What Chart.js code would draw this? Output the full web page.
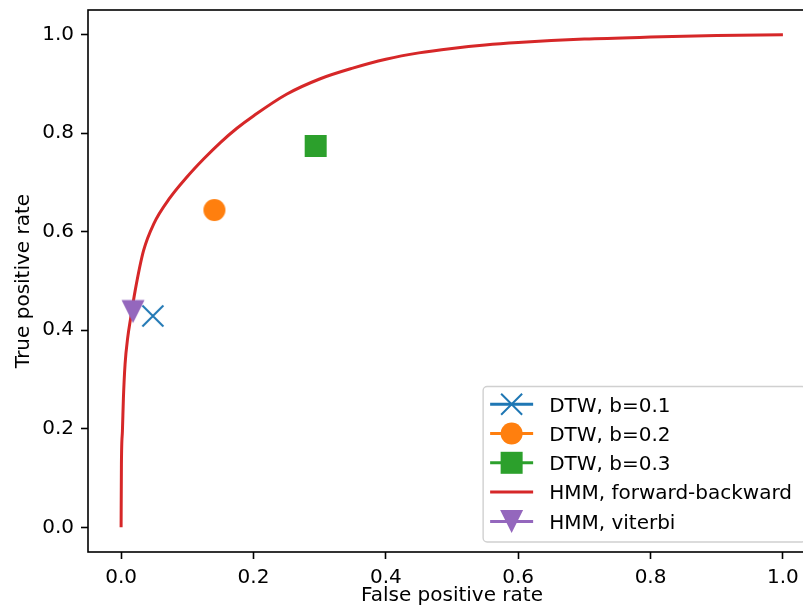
<!DOCTYPE html>
<html>
<head>
<meta charset="utf-8">
<script src="https://cdn.jsdelivr.net/npm/chart.js@4/dist/chart.umd.min.js"></script>
<style>
  html, body { margin: 0; padding: 0; background: #fff; overflow: hidden; }
  #wrap { width: 830px; height: 614px; }
</style>
</head>
<body>
<div id="wrap"><canvas id="c" width="830" height="614"></canvas></div>
<script>
// ---- data ----
const xTickValues = [0.0, 0.2, 0.4, 0.6, 0.8, 1.0];
const yTickValues = [0.0, 0.2, 0.4, 0.6, 0.8, 1.0];
const xLabel = 'False positive rate';
const yLabel = 'True positive rate';

const seriesLabels = ['DTW, b=0.1', 'DTW, b=0.2', 'DTW, b=0.3', 'HMM, forward-backward', 'HMM, viterbi'];
const seriesColors = ['#1f77b4', '#ff7f0e', '#2ca02c', '#d62728', '#9467bd'];

const dtw01 = [{ x: 0.048, y: 0.429 }];
const dtw02 = [{ x: 0.141, y: 0.644 }];
const dtw03 = [{ x: 0.294, y: 0.774 }];
const viterbi = [{ x: 0.018, y: 0.438 }];

const fbFpr = [0, 0.0005, 0.002, 0.0035, 0.006, 0.010, 0.0145, 0.0212, 0.0338, 0.049, 0.074, 0.0995, 0.125, 0.150, 0.175, 0.200, 0.25, 0.30, 0.35, 0.40, 0.45, 0.50, 0.55, 0.60, 0.70, 0.80, 0.90, 1.0];
const fbTpr = [0, 0.128, 0.195, 0.262, 0.331, 0.385, 0.425, 0.480, 0.561, 0.615, 0.669, 0.711, 0.748, 0.781, 0.810, 0.835, 0.879, 0.910, 0.932, 0.950, 0.963, 0.972, 0.979, 0.984, 0.991, 0.995, 0.998, 1.0];

// ---- marker drawing ----
const FONT = '"DejaVu Sans", "Liberation Sans", sans-serif';

function drawMarker(ctx, kind, cx, cy, color) {
  ctx.save();
  if (kind === 'x') {
    ctx.strokeStyle = color; ctx.lineWidth = 2; ctx.lineCap = 'butt';
    const r = 10.5;
    ctx.beginPath();
    ctx.moveTo(cx - r, cy - r); ctx.lineTo(cx + r, cy + r);
    ctx.moveTo(cx - r, cy + r); ctx.lineTo(cx + r, cy - r);
    ctx.stroke();
  } else if (kind === 'o') {
    ctx.fillStyle = color;
    ctx.beginPath(); ctx.arc(cx, cy, 11, 0, Math.PI * 2); ctx.fill();
  } else if (kind === 's') {
    ctx.fillStyle = color;
    ctx.fillRect(cx - 11, cy - 11, 22, 22);
  } else if (kind === 'v') {
    ctx.fillStyle = color;
    ctx.beginPath();
    ctx.moveTo(cx - 11.5, cy - 11.5); ctx.lineTo(cx + 11.5, cy - 11.5); ctx.lineTo(cx, cy + 11.5);
    ctx.closePath(); ctx.fill();
  }
  ctx.restore();
}

function markerCanvas(kind, color) {
  const cv = document.createElement('canvas');
  cv.width = 26; cv.height = 26;
  drawMarker(cv.getContext('2d'), kind, 13, 13, color);
  return cv;
}

const markerKinds = ['x', 'o', 's', null, 'v'];

// ---- plugins ----
const framePlugin = {
  id: 'frame',
  afterDatasetsDraw(chart) {
    const { ctx, chartArea: a } = chart;
    ctx.save();
    ctx.strokeStyle = '#000'; ctx.lineWidth = 1.6;
    ctx.strokeRect(a.left, a.top, a.right - a.left, a.bottom - a.top);
    ctx.restore();
  }
};

const legendPlugin = {
  id: 'mplLegend',
  afterDraw(chart) {
    const { ctx, chartArea: a } = chart;
    ctx.save();
    ctx.font = '20px ' + FONT;
    const labels = chart.data.datasets.map(d => d.label);
    const maxW = Math.max(...labels.map(t => ctx.measureText(t).width));
    const w = 66 + maxW + 14;
    const h = 155.5;
    const right = a.right - 10, bottom = a.bottom - 10;
    const left = right - w, top = bottom - h;
    ctx.beginPath();
    ctx.roundRect(left, top, w, h, 4);
    ctx.fillStyle = 'rgba(255,255,255,0.8)';
    ctx.fill();
    ctx.strokeStyle = '#d0d0d0'; ctx.lineWidth = 1.4;
    ctx.stroke();
    chart.data.datasets.forEach((d, i) => {
      const cy = top + 17.7 + i * 29.3;
      const color = seriesColors[i];
      ctx.strokeStyle = color; ctx.lineWidth = 3; ctx.lineCap = 'butt';
      ctx.beginPath(); ctx.moveTo(left + 7, cy); ctx.lineTo(left + 50, cy); ctx.stroke();
      if (markerKinds[i]) drawMarker(ctx, markerKinds[i], left + 28.5, cy, color);
      ctx.fillStyle = '#000';
      ctx.textBaseline = 'alphabetic';
      ctx.textAlign = 'left';
      ctx.fillText(d.label, left + 66, cy + 7.3);
    });
    ctx.restore();
  }
};

// ---- chart ----
function pointSet(i, data) {
  return {
    label: seriesLabels[i], data,
    pointStyle: markerCanvas(markerKinds[i], seriesColors[i]),
    pointRadius: 5, borderColor: seriesColors[i], backgroundColor: seriesColors[i],
    showLine: false, order: 4 - i
  };
}

const datasets = [
  pointSet(0, dtw01),
  pointSet(1, dtw02),
  pointSet(2, dtw03),
  {
    label: seriesLabels[3],
    data: fbFpr.map((x, k) => ({ x, y: fbTpr[k] })),
    showLine: true, pointRadius: 0, borderColor: seriesColors[3], backgroundColor: seriesColors[3],
    borderWidth: 3, cubicInterpolationMode: 'monotone', order: 1
  },
  pointSet(4, viterbi)
];

function axis(ticks, title, isX) {
  return {
    type: 'linear',
    min: -0.05, max: 1.05,
    afterBuildTicks(s) { s.ticks = ticks.map(v => ({ value: v })); },
    afterFit(s) {
      if (isX) { s.height = 62; }
      else { s.width = 88; s.paddingTop = 0; }
    },
    grid: { display: true, drawOnChartArea: false, drawTicks: true, tickLength: 7, tickWidth: 1.6, tickColor: '#000' },
    border: { display: false },
    ticks: {
      padding: 7, color: '#000', font: { family: FONT, size: 20 },
      maxRotation: 0, autoSkip: false,
      callback: v => Number(v).toFixed(1)
    },
    title: {
      display: true, text: title, color: '#000', font: { family: FONT, size: 20 },
      padding: isX ? { top: 0, bottom: 6 } : { top: 12, bottom: 0 }
    }
  };
}

new Chart(document.getElementById('c'), {
  type: 'scatter',
  data: { datasets },
  options: {
    responsive: false, animation: false, events: [],
    layout: { padding: { top: 10, right: 14, left: 0, bottom: 0 } },
    plugins: { legend: { display: false }, tooltip: { enabled: false } },
    scales: { x: axis(xTickValues, xLabel, true), y: axis(yTickValues, yLabel, false) }
  },
  plugins: [framePlugin, legendPlugin]
});
</script>
</body>
</html>
